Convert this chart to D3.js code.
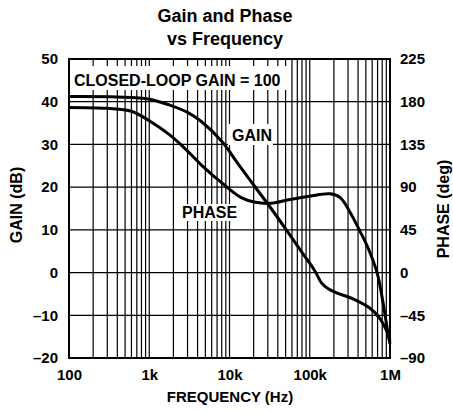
<!DOCTYPE html>
<html>
<head>
<meta charset="utf-8">
<script src="https://cdnjs.cloudflare.com/ajax/libs/d3/7.8.5/d3.min.js"></script>
<style>
  body { margin: 0; background: #fff; }
  svg text { font-family: "Liberation Sans", Arial, Helvetica, sans-serif; font-weight: bold; fill: #000; }
</style>
</head>
<body>
<div id="canvas"></div>
<script>
// values
const freqTicks = [100, 1e3, 1e4, 1e5, 1e6];
const freqLabels = ["100", "1k", "10k", "100k", "1M"];
const gainTicks = [-20, -10, 0, 10, 20, 30, 40, 50];
const gainLabels = ["–20", "–10", "0", "10", "20", "30", "40", "50"];
const phaseTicks = [-90, -45, 0, 45, 90, 135, 180, 225];
const phaseLabels = ["–90", "–45", "0", "45", "90", "135", "180", "225"];

const gainFreq = [100, 400, 1000, 1800, 3000, 4500, 8300, 12400, 20000, 33000, 51000, 78000, 115000, 140000, 170000, 220000, 350000, 560000, 750000, 900000, 1000000];
const gainDb = [41.2, 41.1, 40.6, 39.2, 37.5, 35.3, 30.4, 25.8, 20.5, 15, 10, 5, 0.5, -2.4, -3.8, -4.8, -6.2, -8.3, -10.8, -13.5, -16];

const phaseFreq = [100, 300, 600, 1000, 1800, 3000, 4500, 9000, 14000, 21000, 33000, 57000, 100000, 180000, 240000, 320000, 420000, 520000, 690000, 820000, 940000, 1000000];
const phaseDeg = [174, 173, 170, 160, 145, 128, 113, 91, 79, 74, 73, 77, 80.5, 83, 79, 63, 44, 28, 0, -32, -63, -75];

const w = 453;
const h = 411;
const margin = { top: 59, bottom: 53, left: 69, right: 63 };
const width = w - margin.left - margin.right;
const height = h - margin.top - margin.bottom;

const svg = d3.select("#canvas")
  .append("svg")
  .attr("width", w)
  .attr("height", h);

svg.append("rect").attr("width", w).attr("height", h).attr("fill", "#fff");

const chart = svg.append("g")
  .attr("transform", "translate(" + margin.left + "," + margin.top + ")");

const x = d3.scaleLog().domain([100, 1e6]).range([0, width]);
const yGain = d3.scaleLinear().domain([-20, 50]).range([height, 0]);
const yPhase = d3.scaleLinear().domain([-90, 225]).range([height, 0]);

// log grid, every 1..9 of each decade
const minorFreqs = [];
for (let dec = 100; dec < 1e6; dec *= 10) {
  for (let k = 1; k <= 9; k++) minorFreqs.push(dec * k);
}
minorFreqs.push(1e6);

chart.append("g")
  .selectAll("line")
  .data(minorFreqs)
  .enter()
  .append("line")
  .attr("x1", d => x(d)).attr("x2", d => x(d))
  .attr("y1", 0).attr("y2", height)
  .attr("stroke", "#000")
  .attr("stroke-width", 1.2);

chart.append("g")
  .selectAll("line")
  .data(gainTicks)
  .enter()
  .append("line")
  .attr("x1", 0).attr("x2", width)
  .attr("y1", d => yGain(d)).attr("y2", d => yGain(d))
  .attr("stroke", "#000")
  .attr("stroke-width", 1.2);

// white boxes behind the labels inside the plot
function labelBox(x0, y0, bw, bh) {
  chart.append("rect")
    .attr("x", x0 - margin.left).attr("y", y0 - margin.top)
    .attr("width", bw).attr("height", bh)
    .attr("fill", "#fff");
}
labelBox(71, 66, 219, 24);
labelBox(228, 124, 45, 21);
labelBox(180, 204, 61, 17);

chart.append("text")
  .attr("x", 74 - margin.left).attr("y", 86 - margin.top)
  .style("font-size", "16px")
  .text("CLOSED-LOOP GAIN = 100");

chart.append("text")
  .attr("x", 232 - margin.left).attr("y", 141 - margin.top)
  .style("font-size", "16px")
  .text("GAIN");

chart.append("text")
  .attr("x", 182 - margin.left).attr("y", 218 - margin.top)
  .style("font-size", "16px")
  .text("PHASE");

// curves
const gainLine = d3.line()
  .x(d => x(d[0]))
  .y(d => yGain(d[1]))
  .curve(d3.curveCatmullRom.alpha(0.5));

const phaseLine = d3.line()
  .x(d => x(d[0]))
  .y(d => yPhase(d[1]))
  .curve(d3.curveCatmullRom.alpha(0.5));

chart.append("path")
  .datum(gainFreq.map((f, i) => [f, gainDb[i]]))
  .attr("d", gainLine)
  .attr("fill", "none")
  .attr("stroke", "#000")
  .attr("stroke-width", 3)
  .attr("stroke-linejoin", "round");

chart.append("path")
  .datum(phaseFreq.map((f, i) => [f, phaseDeg[i]]))
  .attr("d", phaseLine)
  .attr("fill", "none")
  .attr("stroke", "#000")
  .attr("stroke-width", 3)
  .attr("stroke-linejoin", "round");

// frame
chart.append("rect")
  .attr("width", width).attr("height", height)
  .attr("fill", "none")
  .attr("stroke", "#000")
  .attr("stroke-width", 2);

// axes (labels only)
const xAxis = d3.axisBottom(x)
  .tickValues(freqTicks)
  .tickFormat((d, i) => freqLabels[i])
  .tickSize(0).tickPadding(11);

const yAxisL = d3.axisLeft(yGain)
  .tickValues(gainTicks)
  .tickFormat((d, i) => gainLabels[i])
  .tickSize(0).tickPadding(11);

const yAxisR = d3.axisRight(yPhase)
  .tickValues(phaseTicks)
  .tickFormat((d, i) => phaseLabels[i])
  .tickSize(0).tickPadding(10);

function styleAxis(g) {
  g.select(".domain").remove();
  g.selectAll("text")
    .style("font-family", "'Liberation Sans', Arial, sans-serif")
    .style("font-weight", "bold")
    .style("font-size", "15px")
    .attr("fill", "#000");
}

chart.append("g")
  .attr("transform", "translate(0," + height + ")")
  .call(xAxis)
  .call(styleAxis);

chart.append("g").call(yAxisL).call(styleAxis);

chart.append("g")
  .attr("transform", "translate(" + width + ",0)")
  .call(yAxisR)
  .call(styleAxis);

// titles
svg.append("text")
  .attr("x", 225).attr("y", 22)
  .attr("text-anchor", "middle")
  .style("font-size", "18px")
  .text("Gain and Phase");

svg.append("text")
  .attr("x", 225).attr("y", 45)
  .attr("text-anchor", "middle")
  .style("font-size", "18px")
  .text("vs Frequency");

svg.append("text")
  .attr("x", 230).attr("y", 402)
  .attr("text-anchor", "middle")
  .style("font-size", "15px")
  .text("FREQUENCY (Hz)");

svg.append("text")
  .attr("transform", "translate(22,205) rotate(-90)")
  .attr("text-anchor", "middle")
  .style("font-size", "16px")
  .text("GAIN (dB)");

svg.append("text")
  .attr("transform", "translate(449,209) rotate(-90)")
  .attr("text-anchor", "middle")
  .style("font-size", "16px")
  .text("PHASE (deg)");
</script>
</body>
</html>
